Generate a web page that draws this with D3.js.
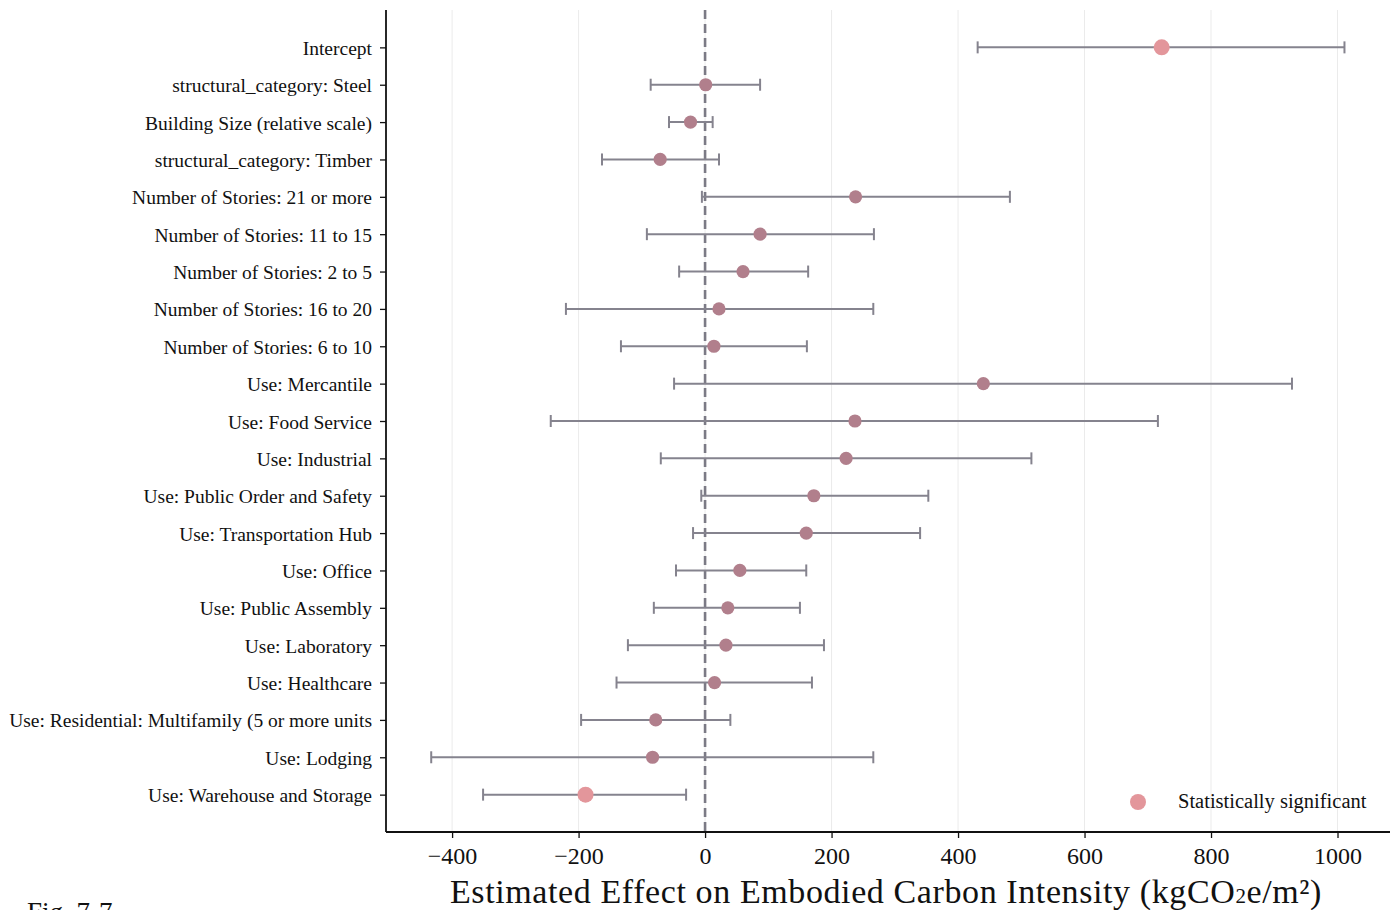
<!DOCTYPE html>
<html><head><meta charset="utf-8">
<script src="https://cdn.jsdelivr.net/npm/d3@7"></script>
<style>body{margin:0;background:#fff;}svg{display:block;}text{font-family:"Liberation Serif","DejaVu Serif",serif;fill:#111;}</style>
</head><body><svg id="c" width="1395" height="910"></svg>
<script>
const terms = ["Intercept","structural_category: Steel","Building Size (relative scale)","structural_category: Timber","Number of Stories: 21 or more","Number of Stories: 11 to 15","Number of Stories: 2 to 5","Number of Stories: 16 to 20","Number of Stories: 6 to 10","Use: Mercantile","Use: Food Service","Use: Industrial","Use: Public Order and Safety","Use: Transportation Hub","Use: Office","Use: Public Assembly","Use: Laboratory","Use: Healthcare","Use: Residential: Multifamily (5 or more units","Use: Lodging","Use: Warehouse and Storage"];
const estimates = [722, 1, -23, -71, 238, 87, 60, 22, 14, 440, 237, 223, 172, 160, 55, 36, 33, 15, -78, -83, -189];
const ciLow = [431, -86, -57, -163, -5, -92, -41, -220, -133, -49, -244, -70, -6, -19, -46, -81, -122, -140, -196, -433, -351];
const ciHigh = [1011, 87, 12, 22, 482, 267, 163, 266, 161, 928, 716, 516, 353, 340, 160, 150, 188, 169, 40, 266, -30];
const significant = [true,false,false,false,false,false,false,false,false,false,false,false,false,false,false,false,false,false,false,false,true];
const xTicks = [-400,-200,0,200,400,600,800,1000];

const svg = d3.select("#c");
const L = 386, R = 1390, T = 10, B = 832;
const x = d3.scaleLinear().domain([-504.5, 1083]).range([L, R]);
const y = d3.scaleLinear().domain([-1, 21]).range([T, B]);

// grid
svg.append("g").selectAll("line").data(xTicks).join("line")
  .attr("x1", d => x(d)).attr("x2", d => x(d)).attr("y1", T).attr("y2", B)
  .attr("stroke", "#ebebeb").attr("stroke-width", 1);

// zero line
svg.append("line").attr("x1", x(0)).attr("x2", x(0)).attr("y1", T).attr("y2", B)
  .attr("stroke", "#7b7a85").attr("stroke-width", 2.6).attr("stroke-dasharray", "9,5");

const ebColor = "#85838e";
const rows = terms.map((t, i) => ({t, i, e: estimates[i], lo: ciLow[i], hi: ciHigh[i], s: significant[i]}));
const g = svg.append("g");
g.selectAll(".eb").data(rows).join("line")
  .attr("x1", d => x(d.lo)).attr("x2", d => x(d.hi)).attr("y1", d => y(d.i)).attr("y2", d => y(d.i))
  .attr("stroke", ebColor).attr("stroke-width", 2);
g.selectAll(".cl").data(rows).join("line")
  .attr("x1", d => x(d.lo)).attr("x2", d => x(d.lo)).attr("y1", d => y(d.i) - 6).attr("y2", d => y(d.i) + 6)
  .attr("stroke", ebColor).attr("stroke-width", 2);
g.selectAll(".ch").data(rows).join("line")
  .attr("x1", d => x(d.hi)).attr("x2", d => x(d.hi)).attr("y1", d => y(d.i) - 6).attr("y2", d => y(d.i) + 6)
  .attr("stroke", ebColor).attr("stroke-width", 2);
g.selectAll("circle").data(rows).join("circle")
  .attr("cx", d => x(d.e)).attr("cy", d => y(d.i))
  .attr("r", d => d.s ? 8 : 6.6)
  .attr("fill", d => d.s ? "#e3969b" : "#b17f8c");

// axes
const xAxis = d3.axisBottom(x).tickValues(xTicks).tickSize(6).tickPadding(9)
  .tickFormat(d => d < 0 ? "\u2212" + Math.abs(d) : String(d));
const gx = svg.append("g").attr("transform", `translate(0,${B})`).call(xAxis);
gx.select(".domain").attr("d", `M${L},0H${R}`).attr("stroke", "#111").attr("stroke-width", 1.8);
gx.selectAll(".tick line").attr("stroke", "#111").attr("stroke-width", 1.3);
gx.selectAll(".tick text").style("font-size", "24px").attr("fill", "#111");

const yAxis = d3.axisLeft(y).tickValues(d3.range(terms.length)).tickSize(6).tickPadding(8)
  .tickFormat(i => terms[i]);
const gy = svg.append("g").attr("transform", `translate(${L},0)`).call(yAxis);
gy.select(".domain").attr("d", `M0,${T}V${B}`).attr("stroke", "#111").attr("stroke-width", 1.8);
gy.selectAll(".tick line").attr("stroke", "#111").attr("stroke-width", 1.3);
gy.selectAll(".tick text").style("font-size", "19.5px").attr("fill", "#111").attr("dy", "0.36em");

// x label
svg.append("text").attr("x", (L + R) / 2 - 2).attr("y", 903).attr("text-anchor", "middle")
  .style("font-size", "34px").style("letter-spacing", "0.6px")
  .html('Estimated Effect on Embodied Carbon Intensity (kgCO<tspan font-size="21px">2</tspan>e/m\u00B2)');

// legend
svg.append("circle").attr("cx", 1138).attr("cy", 802).attr("r", 8).attr("fill", "#e3969b");
svg.append("text").attr("x", 1178).attr("y", 808).style("font-size", "20.5px").text("Statistically significant");

// figure caption (cut off at the bottom edge, as in the reference)
svg.append("text").attr("x", 27).attr("y", 921).style("font-size", "27px").text("Fig. 7-7");
</script></body></html>
